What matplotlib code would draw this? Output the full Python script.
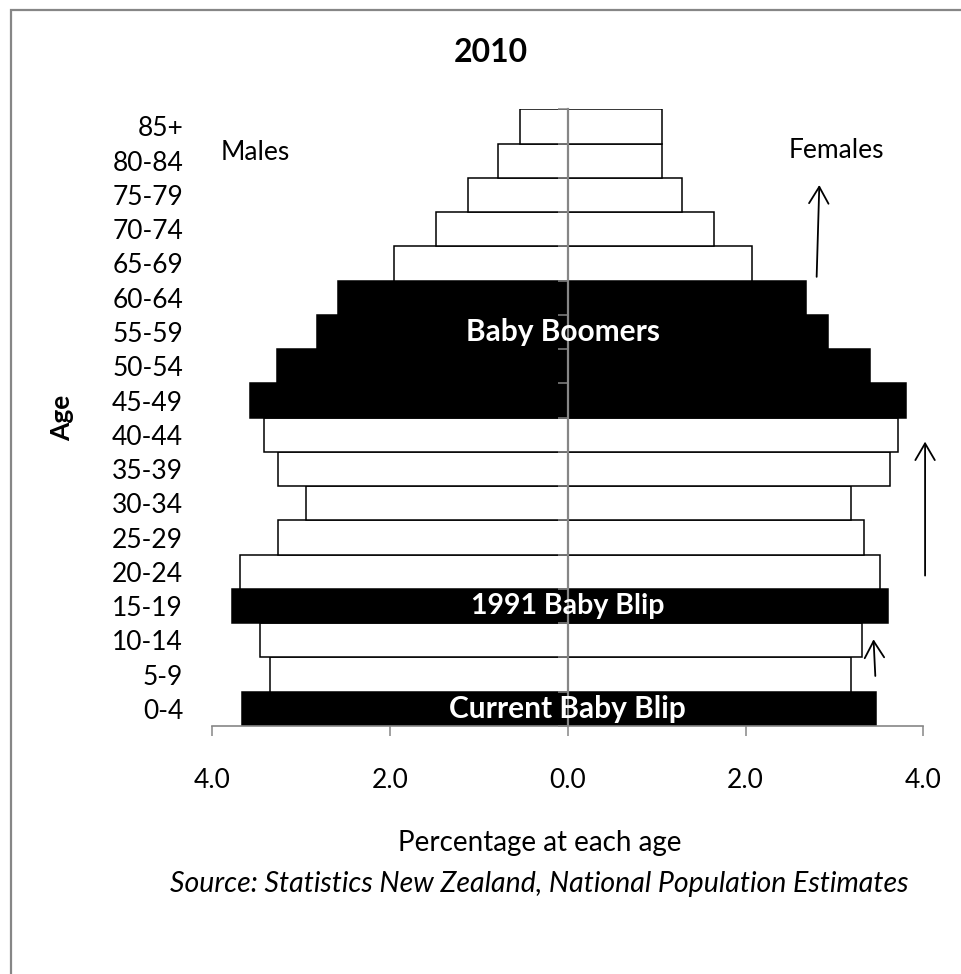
import numpy as np
import matplotlib
matplotlib.use("Agg")
import matplotlib.pyplot as plt
from matplotlib.patches import Rectangle
from matplotlib.ticker import FuncFormatter

plt.rcParams["font.family"] = ["Lato", "DejaVu Sans"]

# ── Data ──────────────────────────────────────────────────────────────────────
ages = ["0-4", "5-9", "10-14", "15-19", "20-24", "25-29", "30-34", "35-39",
        "40-44", "45-49", "50-54", "55-59", "60-64", "65-69", "70-74",
        "75-79", "80-84", "85+"]
males = [3.67, 3.35, 3.46, 3.78, 3.69, 3.26, 2.95, 3.26, 3.42,
         3.58, 3.27, 2.82, 2.59, 1.96, 1.48, 1.12, 0.79, 0.54]
females = [3.47, 3.19, 3.31, 3.60, 3.51, 3.33, 3.19, 3.62, 3.71,
           3.81, 3.40, 2.93, 2.68, 2.07, 1.64, 1.28, 1.06, 1.06]
highlighted = ["0-4", "15-19", "45-49", "50-54", "55-59", "60-64"]
x_ticks = [-4, -2, 0, 2, 4]

GRID = "#868686"

y = np.arange(len(ages))
colors = ["black" if a in highlighted else "white" for a in ages]

# ── Figure ────────────────────────────────────────────────────────────────────
fig = plt.figure(figsize=(9.62, 9.74), dpi=100)
W, H = 962, 974
ax = fig.add_axes([212.3 / W, 1 - 726 / H, (923.3 - 212.3) / W, (726 - 109.3) / H])

# chart-area border (runs off the right and bottom of the image)
fig.patches.append(Rectangle((10.5 / W, -0.05), 1.2, 1 - 9.5 / H + 0.05,
                             transform=fig.transFigure, fill=False,
                             edgecolor=GRID, linewidth=1.6))

ax.barh(y, -np.array(males), height=1.0, color=colors,
        edgecolor="black", linewidth=1.1, zorder=2)
ax.barh(y, females, height=1.0, color=colors,
        edgecolor="black", linewidth=1.1, zorder=2)

ax.set_xlim(-4, 4)
ax.set_ylim(-0.5, len(ages) - 0.5)

# category labels on the far left
ax.set_yticks(y)
ax.set_yticklabels(ages, fontsize=19)
ax.tick_params(axis="y", length=0, pad=21)

# value axis
ax.set_xticks(x_ticks)
ax.xaxis.set_major_formatter(FuncFormatter(lambda v, p: f"{abs(v):.1f}"))
ax.tick_params(axis="x", direction="out", length=7, width=1.1, color=GRID,
               labelsize=19, pad=23)
for side in ["left", "top", "right"]:
    ax.spines[side].set_visible(False)
ax.spines["bottom"].set_color(GRID)
ax.spines["bottom"].set_linewidth(1.2)

# centre axis with category boundary ticks
sec = ax.secondary_yaxis(0, transform=ax.transData)
sec.set_yticks(np.arange(-0.5, len(ages), 1.0))
sec.tick_params(axis="y", direction="out", length=7, width=1.1, color=GRID,
                labelleft=False)
sec.spines["left"].set_color(GRID)
sec.spines["left"].set_linewidth(1.6)
sec.set_zorder(5)

# ── Text ──────────────────────────────────────────────────────────────────────
fig.text(491 / W, 1 - 52 / H, "2010", fontsize=23, fontweight="bold",
         ha="center", va="center")
ax.set_ylabel("Age", fontsize=19, fontweight="bold", labelpad=27)
fig.text(540 / W, 1 - 843 / H, "Percentage at each age", fontsize=20,
         ha="center", va="center")
fig.text(539 / W, 1 - 884 / H,
         "Source: Statistics New Zealand, National Population Estimates",
         fontsize=20.5, style="italic", ha="center", va="center")

ax.text(-3.52, 16.25, "Males", fontsize=19, ha="center", va="center")
ax.text(3.02, 16.3, "Females", fontsize=19, ha="center", va="center")
ax.text(-0.05, ages.index("55-59"), "Baby Boomers", fontsize=21.5,
        fontweight="bold", color="white", ha="center", va="center", zorder=6)
ax.text(0.0, ages.index("15-19"), "1991 Baby Blip", fontsize=20.5,
        fontweight="bold", color="white", ha="center", va="center", zorder=6)
ax.text(0.0, ages.index("0-4"), "Current Baby Blip", fontsize=21.5,
        fontweight="bold", color="white", ha="center", va="center", zorder=6)

arrow = dict(arrowstyle="->,head_length=0.6,head_width=0.35",
             color="black", linewidth=1.3, mutation_scale=20,
             shrinkA=0, shrinkB=0)
ax.annotate("", xy=(2.83, 15.29), xytext=(2.80, 12.61), arrowprops=arrow,
            annotation_clip=False)
ax.annotate("", xy=(4.02, 7.80), xytext=(4.02, 3.89), arrowprops=arrow,
            annotation_clip=False)
ax.annotate("", xy=(3.44, 2.03), xytext=(3.46, 0.96), arrowprops=arrow,
            annotation_clip=False)

fig.savefig("out.png", dpi=100)
